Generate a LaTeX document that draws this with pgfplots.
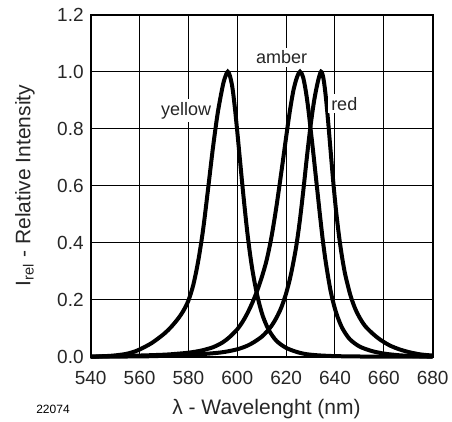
\documentclass[border=0pt]{standalone}
\usepackage{pgfplots}
\pgfplotsset{compat=1.18}
\usepackage{fontspec}
\setmainfont{Liberation Sans}

% relative spectra
\pgfplotstableread{
x y
540 0.000
548 0.003
554 0.009
558 0.018
560 0.025
565 0.048
570 0.080
573 0.105
576 0.136
578 0.162
580 0.197
582 0.252
584 0.335
586 0.445
588 0.585
590 0.730
592 0.855
594 0.948
595 0.980
596.1 1.000
597 0.985
598 0.945
599 0.875
600 0.790
601 0.700
602 0.610
603 0.525
604 0.445
605 0.375
606 0.315
607 0.265
608 0.222
609 0.186
610 0.155
611 0.130
613 0.092
616 0.056
620 0.031
625 0.015
630 0.007
640 0.002
660 0.000
680 0.000
}\yellowdata

\pgfplotstableread{
x y
540 0.000
550 0.002
560 0.004
570 0.007
575 0.010
580 0.014
585 0.021
590 0.033
594 0.050
597 0.070
600 0.096
602 0.120
604 0.150
606 0.186
608 0.228
610 0.278
612 0.338
614 0.420
616 0.525
618 0.645
620 0.770
621.5 0.860
623 0.935
624.5 0.982
625.7 1.000
626.9 0.982
628 0.935
629 0.875
630 0.800
631 0.725
632 0.645
633 0.565
634 0.485
635 0.410
636 0.345
637 0.290
638 0.240
639 0.200
640 0.168
641 0.141
643 0.100
646 0.062
650 0.036
655 0.020
660 0.011
665 0.006
670 0.003
680 0.000
}\amberdata

\pgfplotstableread{
x y
540 0.000
560 0.001
570 0.003
580 0.006
590 0.012
595 0.017
600 0.026
604 0.038
607 0.052
610 0.070
612 0.087
614 0.108
616 0.136
618 0.172
620 0.222
622 0.290
624 0.380
625.5 0.470
627 0.580
628.5 0.700
630 0.810
631.5 0.900
633 0.965
634.3 1.000
635.3 0.975
636.3 0.908
637.3 0.815
638.3 0.713
639.3 0.613
640.3 0.524
641.3 0.448
642.3 0.383
643.3 0.329
644.3 0.284
646.3 0.216
648.3 0.168
650.3 0.134
652.3 0.108
655.3 0.082
658.3 0.061
662.3 0.040
666.3 0.026
670.3 0.016
675 0.008
680 0.004
}\reddata

\begin{document}
\begin{tikzpicture}
\path[use as bounding box] (-45.35pt,-32.65pt) rectangle (180.65pt,178.35pt);
\begin{axis}[
    at={(0,0)}, anchor=south west,
    scale only axis, width=171pt, height=171pt,
    xmin=540, xmax=680, ymin=0, ymax=1.2,
    xtick={540,560,580,600,620,640,660,680},
    ytick={0,0.2,0.4,0.6,0.8,1.0,1.2},
    grid=major,
    major grid style={black, line width=0.5pt},
    axis line style={black, line width=1pt},
    tick style={draw=none},
    clip=false,
    tick label style={font=\fontsize{9.5}{11}\selectfont, text=black!85},
    /pgf/number format/assume math mode=true,
    xticklabel style={/pgf/number format/1000 sep={}, yshift=-3.5pt},
    yticklabel style={/pgf/number format/.cd, fixed, fixed zerofill, precision=1},
    label style={font=\fontsize{10.5}{12}\selectfont, text=black!85},
    xlabel={λ - Wavelenght (nm)},
    ylabel={I\textsubscript{rel} - Relative Intensity},
    xlabel style={at={(axis description cs:0.514,-0.153)}, anchor=center},
    ylabel style={at={(axis description cs:-0.192,0.5)}, anchor=center, rotate=0},
]
\addplot[black, line width=2pt, smooth] table {\yellowdata};
\addplot[black, line width=2pt, smooth] table {\amberdata};
\addplot[black, line width=2pt, smooth] table {\reddata};

\node[fill=white, inner sep=1.5pt, font=\fontsize{9}{10.8}\selectfont, text=black!85] at (axis cs:579.1,0.864) {yellow};
\node[fill=white, inner sep=1.5pt, font=\fontsize{9}{10.8}\selectfont, text=black!85] at (axis cs:618.2,1.05) {amber};
\node[fill=white, inner sep=1.5pt, font=\fontsize{9}{10.8}\selectfont, text=black!85] at (axis cs:643.8,0.888) {red};
\end{axis}
\node[font=\fontsize{6}{7}\selectfont] at (-18.85pt,-26.2pt) {22074};
\end{tikzpicture}
\end{document}
